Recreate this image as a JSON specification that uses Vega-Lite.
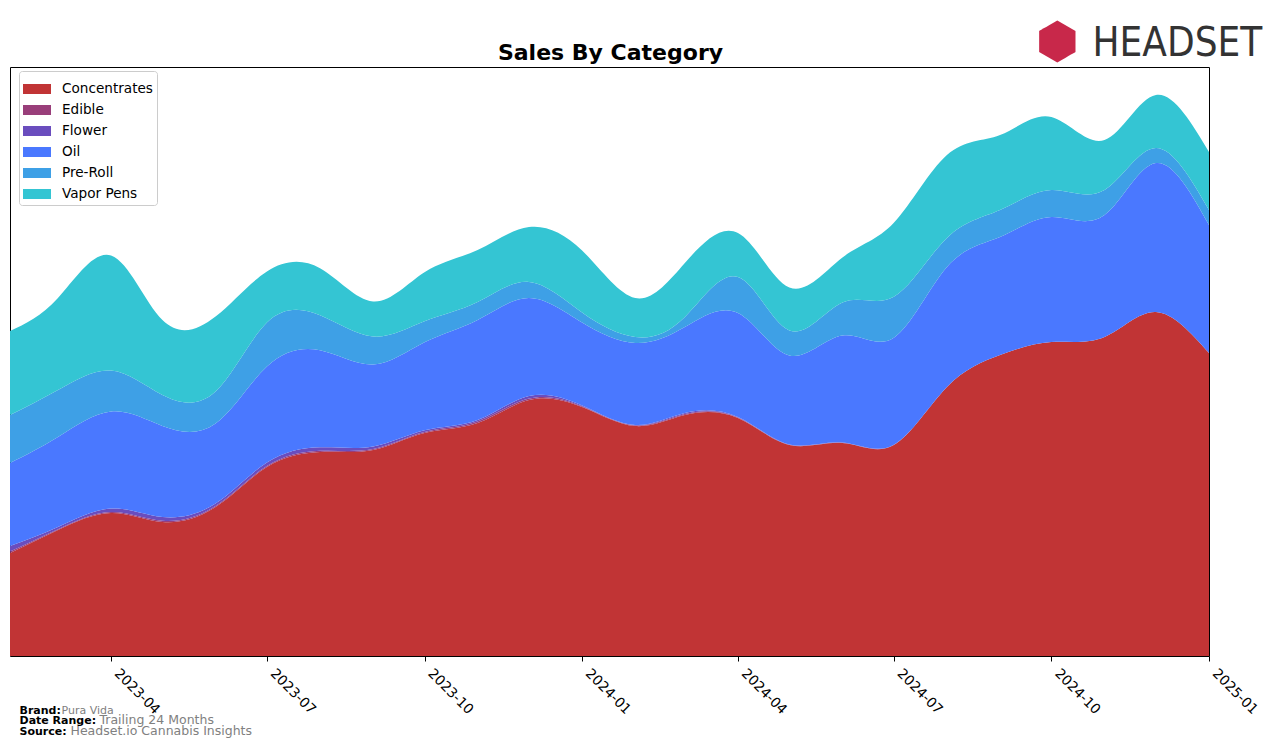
{
  "$schema": "https://vega.github.io/schema/vega-lite/v6.json",
  "width": 1199,
  "height": 589,
  "autosize": {"type": "none"},
  "padding": {"left": 10, "top": 67, "right": 67, "bottom": 91},
  "background": "white",
  "config": {"view": {"stroke": "black", "strokeWidth": 1}, "font": "DejaVu Sans"},
  "data": {"values": [
    {"month": "2023-02-01", "Concentrates": 103, "Edible": 1.5, "Flower": 5.5, "Oil": 83, "Pre-Roll": 48, "Vapor Pens": 84},
    {"month": "2023-03-01", "Concentrates": 126, "Edible": 0.8, "Flower": 2.2, "Oil": 90, "Pre-Roll": 47, "Vapor Pens": 92},
    {"month": "2023-04-01", "Concentrates": 143, "Edible": 1, "Flower": 3.5, "Oil": 97, "Pre-Roll": 41, "Vapor Pens": 115},
    {"month": "2023-05-01", "Concentrates": 134, "Edible": 1.2, "Flower": 3.8, "Oil": 91, "Pre-Roll": 31, "Vapor Pens": 75},
    {"month": "2023-06-01", "Concentrates": 149, "Edible": 1, "Flower": 2.5, "Oil": 80, "Pre-Roll": 32, "Vapor Pens": 75},
    {"month": "2023-07-01", "Concentrates": 189, "Edible": 1, "Flower": 3.5, "Oil": 96, "Pre-Roll": 44, "Vapor Pens": 51},
    {"month": "2023-08-01", "Concentrates": 204, "Edible": 1.2, "Flower": 3.5, "Oil": 97, "Pre-Roll": 35, "Vapor Pens": 47},
    {"month": "2023-09-01", "Concentrates": 206, "Edible": 1, "Flower": 2.5, "Oil": 82, "Pre-Roll": 28, "Vapor Pens": 35},
    {"month": "2023-10-01", "Concentrates": 223, "Edible": 1, "Flower": 1.7, "Oil": 88, "Pre-Roll": 21, "Vapor Pens": 49},
    {"month": "2023-11-01", "Concentrates": 233, "Edible": 1.5, "Flower": 1.5, "Oil": 100, "Pre-Roll": 18, "Vapor Pens": 52},
    {"month": "2023-12-01", "Concentrates": 256, "Edible": 1.5, "Flower": 2.5, "Oil": 98, "Pre-Roll": 16, "Vapor Pens": 55},
    {"month": "2024-01-01", "Concentrates": 249, "Edible": 0.7, "Flower": 0.8, "Oil": 83, "Pre-Roll": 10, "Vapor Pens": 62},
    {"month": "2024-02-01", "Concentrates": 230, "Edible": 0.5, "Flower": 0.5, "Oil": 82, "Pre-Roll": 6, "Vapor Pens": 39},
    {"month": "2024-03-01", "Concentrates": 241, "Edible": 1, "Flower": 1, "Oil": 86, "Pre-Roll": 10, "Vapor Pens": 54},
    {"month": "2024-04-01", "Concentrates": 238, "Edible": 0.5, "Flower": 0.5, "Oil": 104, "Pre-Roll": 36, "Vapor Pens": 44},
    {"month": "2024-05-01", "Concentrates": 211, "Edible": 0.3, "Flower": 0.3, "Oil": 89, "Pre-Roll": 25, "Vapor Pens": 43},
    {"month": "2024-06-01", "Concentrates": 213, "Edible": 0.3, "Flower": 0.2, "Oil": 107, "Pre-Roll": 33, "Vapor Pens": 45},
    {"month": "2024-07-01", "Concentrates": 211, "Edible": 0.2, "Flower": 0, "Oil": 107, "Pre-Roll": 41, "Vapor Pens": 74},
    {"month": "2024-08-01", "Concentrates": 269, "Edible": 0, "Flower": 0, "Oil": 120, "Pre-Roll": 29, "Vapor Pens": 83},
    {"month": "2024-09-01", "Concentrates": 301, "Edible": 0, "Flower": 0, "Oil": 118, "Pre-Roll": 27, "Vapor Pens": 75},
    {"month": "2024-10-01", "Concentrates": 314, "Edible": 0, "Flower": 0, "Oil": 125, "Pre-Roll": 27, "Vapor Pens": 73},
    {"month": "2024-11-01", "Concentrates": 319, "Edible": 0, "Flower": 0, "Oil": 122, "Pre-Roll": 25, "Vapor Pens": 50},
    {"month": "2024-12-01", "Concentrates": 344, "Edible": 0, "Flower": 0, "Oil": 149, "Pre-Roll": 15, "Vapor Pens": 53},
    {"month": "2025-01-01", "Concentrates": 303, "Edible": 0, "Flower": 0, "Oil": 128, "Pre-Roll": 15, "Vapor Pens": 58}
  ]},
  "transform": [{"fold": ["Concentrates", "Edible", "Flower", "Oil", "Pre-Roll", "Vapor Pens"], "as": ["category", "sales"]}],
  "layer": [
    {
      "mark": {"type": "area", "interpolate": "natural", "opacity": 1},
      "encoding": {
        "x": {"field": "month", "type": "temporal",
          "scale": {"type": "utc", "domain": ["2023-02-01", "2025-01-01"]},
          "axis": {"format": "%Y-%m", "tickCount": {"interval": "month", "step": 3}, "labelAngle": 45, "labelAlign": "left", "labelBaseline": "top", "labelFontSize": 13.8, "labelFont": "DejaVu Sans", "labelColor": "black", "tickColor": "black", "tickSize": 5, "domain": false, "grid": false, "labelPadding": 5, "labelOffset": 10, "labelFlush": false, "labelOverlap": false,
            "title": ["Brand:", "Date Range:", "Source:"], "titleFont": "DejaVu Sans", "titleFontSize": 11, "titleFontWeight": "bold", "titleColor": "black", "titleAlign": "left", "titleAnchor": "start", "titleBaseline": "alphabetic", "titleAngle": 0, "titleX": 9, "titleY": 57, "titleLineHeight": 10.5}},
        "y": {"field": "sales", "type": "quantitative", "stack": "zero", "scale": {"domain": [0, 589], "nice": false, "zero": true}, "axis": null},
        "color": {"field": "category", "type": "nominal",
          "scale": {"domain": ["Concentrates", "Edible", "Flower", "Oil", "Pre-Roll", "Vapor Pens"], "range": ["#c13435", "#993e7a", "#6a4dbe", "#4a78ff", "#3ea0e6", "#34c5d3"]},
          "legend": {"title": null, "orient": "none", "legendX": 9, "legendY": 4, "labelFontSize": 13.6, "labelFont": "DejaVu Sans", "labelColor": "black", "symbolType": "M-1,-0.357H1V0.357H-1Z", "symbolSize": 784, "symbolStrokeWidth": 0, "symbolOpacity": 1, "labelOffset": 11, "rowPadding": 0, "padding": 4, "strokeColor": "#cccccc", "fillColor": "white", "cornerRadius": 3}},
        "order": {"field": "category", "sort": "ascending"}
      }
    },
    {
      "mark": {"type": "rule", "opacity": 0},
      "encoding": {"x": {"field": "month", "type": "temporal", "scale": {"type": "utc", "domain": ["2023-02-01", "2025-01-01"]},
        "axis": {"orient": "bottom", "labels": false, "ticks": false, "domain": false, "grid": false, "title": "Sales By Category", "titleFont": "DejaVu Sans", "titleFontSize": 22, "titleFontWeight": "bold", "titleColor": "black", "titleAlign": "center", "titleBaseline": "alphabetic", "titleAngle": 0, "titleX": 600, "titleY": -597}}}
    },
    {
      "mark": {"type": "rule", "opacity": 0},
      "encoding": {"x": {"field": "month", "type": "temporal", "scale": {"type": "utc", "domain": ["2023-02-01", "2025-01-01"]},
        "axis": {"orient": "bottom", "labels": false, "ticks": false, "domain": false, "grid": false, "title": "Pura Vida", "titleFont": "DejaVu Sans", "titleFontSize": 11, "titleFontWeight": "normal", "titleColor": "#808080", "titleAlign": "left", "titleBaseline": "alphabetic", "titleAngle": 0, "titleX": 51, "titleY": 57}}}
    },
    {
      "mark": {"type": "rule", "opacity": 0},
      "encoding": {"x": {"field": "month", "type": "temporal", "scale": {"type": "utc", "domain": ["2023-02-01", "2025-01-01"]},
        "axis": {"orient": "bottom", "labels": false, "ticks": false, "domain": false, "grid": false, "title": "Trailing 24 Months", "titleFont": "DejaVu Sans", "titleFontSize": 12.5, "titleFontWeight": "normal", "titleColor": "#808080", "titleAlign": "left", "titleBaseline": "alphabetic", "titleAngle": 0, "titleX": 89, "titleY": 67.5}}}
    },
    {
      "mark": {"type": "rule", "opacity": 0},
      "encoding": {"x": {"field": "month", "type": "temporal", "scale": {"type": "utc", "domain": ["2023-02-01", "2025-01-01"]},
        "axis": {"orient": "bottom", "labels": false, "ticks": false, "domain": false, "grid": false, "title": "Headset.io Cannabis Insights", "titleFont": "DejaVu Sans", "titleFontSize": 12.5, "titleFontWeight": "normal", "titleColor": "#808080", "titleAlign": "left", "titleBaseline": "alphabetic", "titleAngle": 0, "titleX": 60, "titleY": 78}}}
    },
    {
      "mark": {"type": "rule", "opacity": 0},
      "encoding": {"x": {"field": "month", "type": "temporal", "scale": {"type": "utc", "domain": ["2023-02-01", "2025-01-01"]},
        "axis": {"orient": "bottom", "labels": false, "ticks": false, "domain": false, "grid": false, "title": "HEADSET", "titleFont": "DejaVu Sans Condensed", "titleFontSize": 40, "titleFontWeight": "normal", "titleColor": "#333333", "titleAlign": "left", "titleBaseline": "alphabetic", "titleAngle": 0, "titleX": 1082, "titleY": -601}}}
    },
    {
      "mark": {"type": "rule", "opacity": 0},
      "encoding": {"x": {"field": "month", "type": "temporal", "scale": {"type": "utc", "domain": ["2023-02-01", "2025-01-01"]},
        "axis": {"orient": "bottom", "labels": false, "ticks": false, "domain": false, "grid": false, "title": "⬢", "titleFont": "DejaVu Sans", "titleFontSize": 50, "titleFontWeight": "normal", "titleColor": "#c8284a", "titleAlign": "left", "titleBaseline": "alphabetic", "titleAngle": 0, "titleX": 1025, "titleY": -599}}}
    }
  ],
  "resolve": {"axis": {"x": "independent"}}
}
